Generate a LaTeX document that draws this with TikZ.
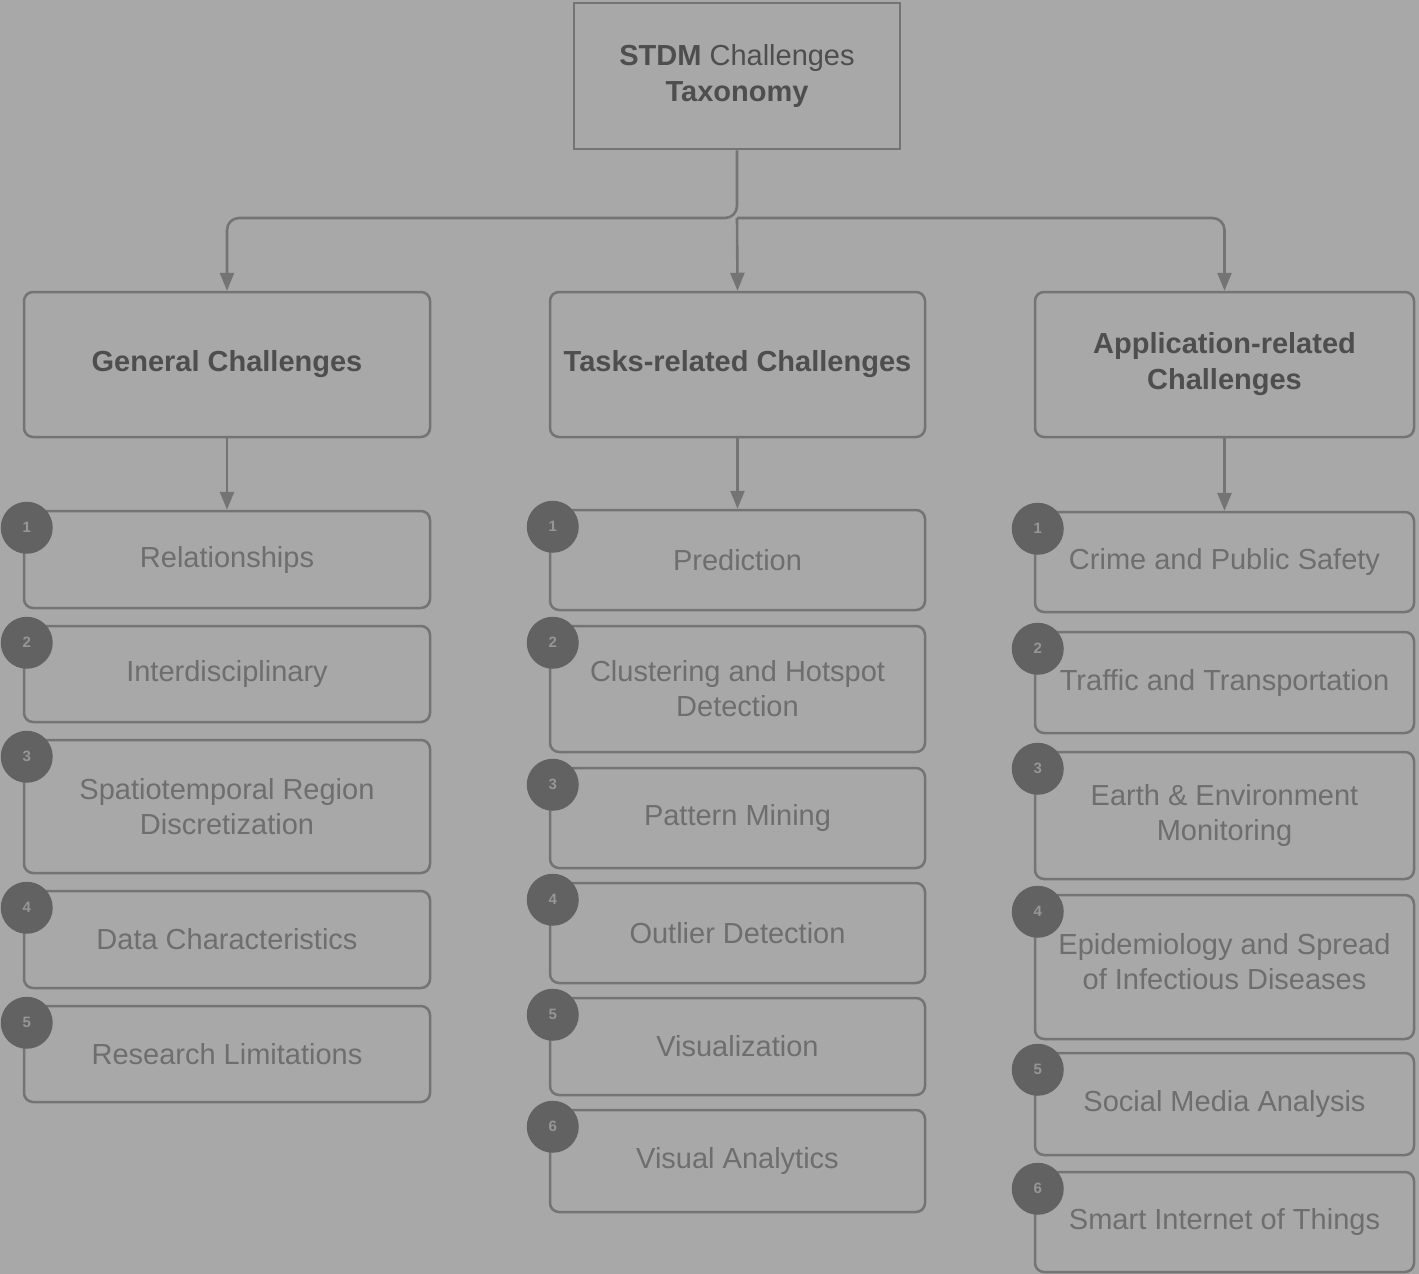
\documentclass[tikz,border=0pt]{standalone}
\usepackage{fontspec}
\setmainfont{Liberation Sans}
\usetikzlibrary{arrows.meta}

\definecolor{bggray}{RGB}{168,168,168}
\definecolor{linegray}{RGB}{116,116,116}
\definecolor{headtext}{RGB}{78,78,78}
\definecolor{itemtext}{RGB}{110,110,110}
\definecolor{badgefill}{RGB}{98,98,98}
\definecolor{badgetext}{RGB}{150,150,150}

\tikzset{
  topbox/.style={draw=linegray, line width=2.5pt, fill=bggray, minimum width=326pt, minimum height=146pt,
    align=center, text=headtext, font=\fontsize{29}{36}\selectfont},
  headbox/.style={draw=linegray, line width=2.5pt, rounded corners=9pt, minimum height=145pt,
    align=center, text=headtext, font=\fontsize{29}{36}\selectfont\bfseries},
  itembox/.style={draw=linegray, line width=2.5pt, rounded corners=9pt,
    align=center, text=itemtext, font=\fontsize{29}{35}\selectfont},
  badge/.style={circle, fill=badgefill, minimum size=52pt, inner sep=0pt, text=badgetext,
    font=\fontsize{15}{15}\selectfont\bfseries},
  conn/.style={draw=linegray, line width=2.6pt, -{Triangle[length=18pt,width=14pt]}},
}

\begin{document}
\begin{tikzpicture}[x=1pt,y=-1pt]
        \fill[bggray] (0,0) rectangle (1419,1274);
        \useasboundingbox (0,0) rectangle (1419,1274);

        % root
        \node[topbox] (root) at (737,76) {\textbf{STDM} Challenges\\\textbf{Taxonomy}};

        % the three groups
        \node[headbox, minimum width=406pt] (gen) at (227,364.5) {General Challenges};
        \node[headbox, minimum width=375pt] (task) at (737.5,364.5) {Tasks-related Challenges};
        \node[headbox, minimum width=379pt] (app) at (1224.5,364.5) {Application-related\\Challenges};

        \coordinate (split) at (737,218);
        \draw[conn, rounded corners=12pt] (root.south) -- (split) -| (gen.north);
        \draw[conn] (split) -- (task.north);
        \draw[conn, rounded corners=12pt] (split) -| (app.north);

        % general challenges
        \node[itembox, minimum width=406pt, minimum height=97pt] (rel) at (227,559.5) {Relationships};
        \node[itembox, minimum width=406pt, minimum height=96pt] (inter) at (227,674) {Interdisciplinary};
        \node[itembox, minimum width=406pt, minimum height=133pt] (region) at (227,806.5) {Spatiotemporal Region\\Discretization};
        \node[itembox, minimum width=406pt, minimum height=97pt] (datac) at (227,939.5) {Data Characteristics};
        \node[itembox, minimum width=406pt, minimum height=96pt] (limit) at (227,1054) {Research Limitations};

        % tasks-related challenges
        \node[itembox, minimum width=375pt, minimum height=100pt] (pred) at (737.5,560) {Prediction};
        \node[itembox, minimum width=375pt, minimum height=126pt] (clust) at (737.5,689) {Clustering and Hotspot\\Detection};
        \node[itembox, minimum width=375pt, minimum height=100pt] (pattern) at (737.5,818) {Pattern Mining};
        \node[itembox, minimum width=375pt, minimum height=100pt] (outlier) at (737.5,933) {Outlier Detection};
        \node[itembox, minimum width=375pt, minimum height=97pt] (vis) at (737.5,1046.5) {Visualization};
        \node[itembox, minimum width=375pt, minimum height=102pt] (vana) at (737.5,1161) {Visual Analytics};

        % application-related challenges
        \node[itembox, minimum width=379pt, minimum height=100pt] (crime) at (1224.5,562) {Crime and Public Safety};
        \node[itembox, minimum width=379pt, minimum height=101pt] (traffic) at (1224.5,682.5) {Traffic and Transportation};
        \node[itembox, minimum width=379pt, minimum height=127pt] (earth) at (1224.5,815.5) {Earth \& Environment\\Monitoring};
        \node[itembox, minimum width=379pt, minimum height=144pt] (epid) at (1224.5,967) {Epidemiology and Spread\\of Infectious Diseases\\[-24pt]};
        \node[itembox, minimum width=379pt, minimum height=102pt] (social) at (1224.5,1104) {Social Media Analysis};
        \node[itembox, minimum width=379pt, minimum height=100pt] (smart) at (1224.5,1222) {Smart Internet of Things};

        \draw[conn] (gen) -- (rel);
        \draw[conn] (task) -- (pred);
        \draw[conn] (app) -- (crime);

        % numbered badges
        \foreach \b/\n in {rel/1,inter/2,region/3,datac/4,limit/5,
                           pred/1,clust/2,pattern/3,outlier/4,vis/5,vana/6,
                           crime/1,traffic/2,earth/3,epid/4,social/5,smart/6}
            \node[badge] (\b-num) at ([shift={(4,18)}]\b.north west) {\n};
    \end{tikzpicture}
\end{document}
